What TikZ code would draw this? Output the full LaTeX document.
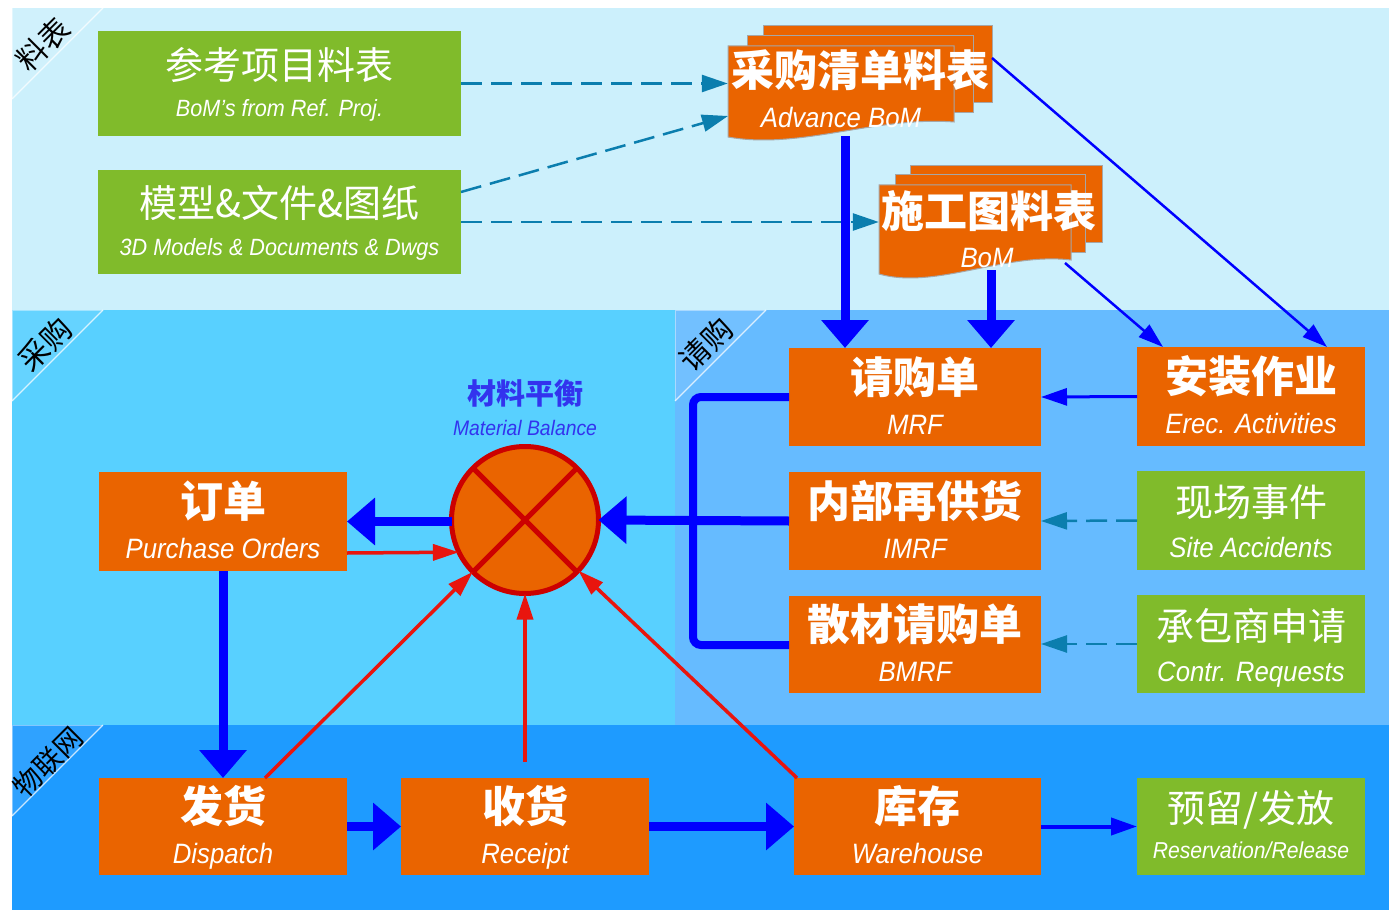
\documentclass[tikz,border=0pt]{standalone}
\usepackage{fontspec}
\usetikzlibrary{arrows.meta}
\newfontfamily\zh{Noto Sans CJK SC}
\newfontfamily\lat[FakeStretch=0.92]{Liberation Sans}
\definecolor{org}{HTML}{EA6400}
\definecolor{grn}{HTML}{80BB2B}
\definecolor{bandA}{HTML}{CCF0FC}
\definecolor{bandB}{HTML}{58D0FF}
\definecolor{bandC}{HTML}{66BBFF}
\definecolor{bandD}{HTML}{1E9BFF}
\definecolor{tealc}{HTML}{0B7EAE}
\definecolor{cred}{HTML}{CC0000}
\definecolor{ared}{HTML}{E8150E}
\definecolor{mbblue}{HTML}{3333EE}
\begin{document}
\begin{tikzpicture}[x=1pt,y=-1pt,
  obox/.style={fill=org,draw=none,inner sep=0,outer sep=0},
  gbox/.style={fill=grn,draw=none,inner sep=0,outer sep=0},
  zhB/.style={font=\zh\bfseries\fontsize{43}{45}\selectfont,text=white,inner sep=0,anchor=base},
  zhR/.style={font=\zh\fontsize{38}{40}\selectfont,text=white,inner sep=0,anchor=base},
  enI/.style={font=\lat\itshape\fontsize{28}{30}\selectfont,text=white,inner sep=0,anchor=base},
  enS/.style={font=\lat\itshape\fontsize{23.5}{25}\selectfont,text=white,inner sep=0,anchor=base},
  corner/.style={font=\zh\fontsize{30}{31}\selectfont,text=black,rotate=45,inner sep=0},
  bigarr/.style={draw=blue,line width=9,-{Triangle[width=46pt,length=28pt]}},
  thinarr/.style={draw=blue,line width=2.5,-{Triangle[width=16pt,length=25pt]}},
  medarr/.style={draw=blue,line width=4,-{Triangle[width=17pt,length=26pt]}},
  redarr/.style={draw=ared,line width=3.5,-{Triangle[width=16pt,length=26pt]}},
  dasharr/.style={draw=tealc,line width=2.5,dash pattern=on 21pt off 9pt,-{Triangle[width=17pt,length=26pt]}},
  docb/.style={fill=org,draw=gray!70,line width=1}
]
\useasboundingbox (0,0) rectangle (1389,912);
% bands
\fill[bandA] (12,8) rectangle (1389,310);
\fill[bandB] (12,310) rectangle (675,725);
\fill[bandC] (675,310) rectangle (1389,725);
\fill[bandD] (12,725) rectangle (1389,910);
% corner triangles
\foreach \x/\y in {12/8,12/310,675/310,12/725}{
  \fill[white,opacity=0.08] (\x,\y) -- (\x+91,\y) -- (\x,\y+91) -- cycle;
  \draw[white,opacity=0.75,line width=1.2] (\x+91,\y) -- (\x,\y+91);
  \draw[white,opacity=0.4,line width=1] (\x,\y+91) -- (\x,\y) -- (\x+91,\y);
}
\node[corner] (c1) at (43,44) {料表};
\node[corner] (c2) at (45,344) {采购};
\node[corner] (c3) at (706,344) {请购};
\node[corner,font=\zh\fontsize{28}{29}\selectfont] (c4) at (48,762) {物联网};

% green boxes top
\node[gbox,minimum width=363,minimum height=105] (ref) at (279.5,83.5) {};
\path (ref) ++(0,-4) node[zhR] {参考项目料表} ++(0,37) node[enS] {BoM’s from Ref. Proj.};
\node[gbox,minimum width=363,minimum height=104] (model) at (279.5,222) {};
\path (model) ++(0,-4) node[zhR] {模型\&文件\&图纸} ++(0,37) node[enS] {3D Models \& Documents \& Dwgs};

% document stack: Advance BoM
\filldraw[docb] (763,26) rectangle (992,103);
\filldraw[docb] (747,36) rectangle (973,113);
\filldraw[docb] (728,46) -- (954,46) -- (954,122) .. controls (875,116) and (800,150) .. (728,137) -- cycle;
\node[inner sep=0,minimum width=226,minimum height=92] (adv) at (841,92) {};
\node[zhB] at (860,87) {采购清单料表};
\node[enI] at (841,128) {Advance BoM};

% document stack: BoM
\filldraw[docb] (910,166) rectangle (1102,242);
\filldraw[docb] (895,175) rectangle (1085,252);
\filldraw[docb] (879,185) -- (1071,185) -- (1071,260) .. controls (1005,252) and (935,290) .. (879,274) -- cycle;
\node[inner sep=0,minimum width=192,minimum height=92] (bom) at (975,231) {};
\node[zhB] at (989,227) {施工图料表};
\node[enI] at (987,267) {BoM};

% right column orange
\node[obox,minimum width=252,minimum height=98] (mrf) at (915,397) {};
\path (mrf) ++(0,-4) node[zhB] {请购单} ++(0,41) node[enI] {MRF};
\node[obox,minimum width=252,minimum height=98] (imrf) at (915,521) {};
\path (imrf) ++(0,-4) node[zhB] {内部再供货} ++(0,41) node[enI] {IMRF};
\node[obox,minimum width=252,minimum height=97] (bmrf) at (915,644.5) {};
\path (bmrf) ++(0,-4) node[zhB] {散材请购单} ++(0,41) node[enI] {BMRF};
\node[obox,minimum width=228,minimum height=99] (inst) at (1251,396.5) {};
\path (inst) ++(0,-4) node[zhB] {安装作业} ++(0,41) node[enI] {Erec. Activities};
\node[gbox,minimum width=228,minimum height=99] (site) at (1251,520.5) {};
\path (site) ++(0,-4) node[zhR] {现场事件} ++(0,41) node[enI] {Site Accidents};
\node[gbox,minimum width=228,minimum height=98] (contr) at (1251,644) {};
\path (contr) ++(0,-4) node[zhR] {承包商申请} ++(0,41) node[enI] {Contr. Requests};

% left / bottom boxes
\node[obox,minimum width=248,minimum height=99] (po) at (223,521.5) {};
\path (po) ++(0,-4) node[zhB] {订单} ++(0,41) node[enI] {Purchase Orders};
\node[obox,minimum width=248,minimum height=97] (dis) at (223,826.5) {};
\path (dis) ++(0,-4) node[zhB] {发货} ++(0,41) node[enI] {Dispatch};
\node[obox,minimum width=248,minimum height=97] (rec) at (525,826.5) {};
\path (rec) ++(0,-4) node[zhB] {收货} ++(0,41) node[enI] {Receipt};
\node[obox,minimum width=247,minimum height=97] (wh) at (917.5,826.5) {};
\path (wh) ++(0,-4) node[zhB] {库存} ++(0,41) node[enI] {Warehouse};
\node[gbox,minimum width=228,minimum height=97] (res) at (1251,826.5) {};
\path (res) ++(0,-4) node[zhR] {预留/发放} ++(0,36) node[enS,font=\lat\itshape\fontsize{23}{25}\selectfont] {Reservation/Release};

% material balance
\node[circle,fill=org,draw=cred,line width=5,minimum size=147,inner sep=0,outer sep=0] (mb) at (525,520) {};
\draw[cred,line width=5] (mb.45) -- (mb.225) (mb.135) -- (mb.315);
\node[font=\zh\bfseries\fontsize{29}{30}\selectfont,text=mbblue,inner sep=0,anchor=base] (mbt) at (525,404) {材料平衡};
\node[font=\lat\itshape\fontsize{21}{22}\selectfont,text=mbblue,inner sep=0,anchor=base] (mbe) at (525,435) {Material Balance};

% coordinates
\coordinate (m1) at (461,192);
\coordinate (a2) at (728,116);
\coordinate (advB) at (845,136);
\coordinate (bomB) at (991,270);
\coordinate (advR) at (992,58);
\coordinate (instT1) at (1327,347);
\coordinate (bomR) at (1065,263);
\coordinate (instT2) at (1163,347);
\coordinate (br1) at (693,397);
\coordinate (br2) at (693,645);
\coordinate (poR) at (347,553);
\coordinate (dT) at (265,778);
\coordinate (rT) at (525,762);
\coordinate (wT) at (797,778);

% dashed connectors
\draw[dasharr] (ref.east) -- (ref.east -| adv.west);
\draw[dasharr] (m1) -- (a2);
\draw[dasharr] (model.east) -- (model.east -| bom.west);
\draw[dasharr] (site.west) -- (imrf.east);
\draw[dasharr] (contr.west) -- (bmrf.east |- contr.west);

% blue connectors
\draw[bigarr] (advB) -- (advB |- mrf.north);
\draw[bigarr] (bomB) -- (bomB |- mrf.north);
\draw[thinarr] (advR) -- (instT1);
\draw[thinarr] (bomR) -- (instT2);
\draw[medarr,line width=3] (inst.west) -- (mrf.east);
\draw[blue,line width=8,rounded corners=8] (mrf.west) -- (br1) -- (br2) -- (bmrf.west |- br2);
\draw[bigarr] (imrf.west) -- (mb.east);
\draw[bigarr] (mb.west |- po.east) -- (po.east);
\draw[bigarr] (po.south) -- (dis.north);
\draw[bigarr] (dis.east) -- (rec.west);
\draw[bigarr] (rec.east) -- (wh.west);
\draw[medarr] (wh.east) -- (res.west);

% red connectors
\draw[redarr] (poR) -- (mb.206);
\draw[redarr] (dT) -- (mb);
\draw[redarr] (rT) -- (mb.south);
\draw[redarr] (wT) -- (mb);
\end{tikzpicture}
\end{document}
